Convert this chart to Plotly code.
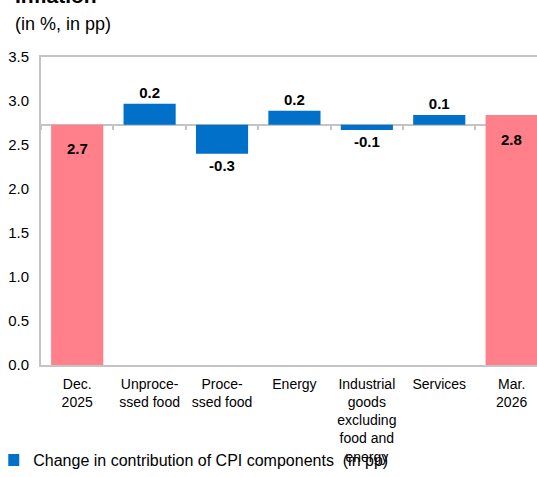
import plotly.graph_objects as go

categories = ["Dec.<br>2025", "Unproce-<br>ssed food", "Proce-<br>ssed food", "Energy",
              "Industrial<br>goods<br>excluding<br>food and<br>energy", "Services", "Mar.<br>2026"]
start_value = 2.73
end_value = 2.84
changes = [0.24, -0.33, 0.16, -0.06, 0.11]
legend_name = "Change in contribution of CPI components  (in pp)"

PINK = "#FF7F8A"
BLUE = "#0070C8"
GRAY = "#C4C4C4"
FONT = "Liberation Sans, Arial, sans-serif"

level_x = [categories[0], categories[-1]]
level_y = [start_value, end_value]
change_x = categories[1:-1]

fig = go.Figure()
fig.add_trace(go.Bar(x=level_x, y=level_y, marker=dict(color=PINK, line=dict(width=0)),
                     width=0.72, showlegend=False, hoverinfo="skip"))
fig.add_trace(go.Bar(x=change_x, y=changes, base=start_value, name=legend_name,
                     marker=dict(color=BLUE, line=dict(width=0)), width=0.72,
                     texttemplate="%{y:.1f}", textposition="outside", cliponaxis=False,
                     textfont=dict(family=FONT, size=15, color="black", weight="bold")))
# invisible helper trace for the crossing axis
fig.add_trace(go.Scatter(x=categories, y=[None] * len(categories), xaxis="x2",
                         showlegend=False, hoverinfo="skip"))

for cx, cy in zip(level_x, level_y):
    fig.add_annotation(x=cx, y=cy, text=f"<b>{cy:.1f}</b>", showarrow=False,
                       yanchor="middle", yshift=-24,
                       font=dict(family=FONT, size=15, color="black"))

fig.add_annotation(xref="paper", yref="paper", x=-0.056, y=1.20, xanchor="left",
                   yanchor="middle", text="<b>Inflation</b>", showarrow=False,
                   font=dict(family=FONT, size=21, color="black"))
fig.add_annotation(xref="paper", yref="paper", x=-0.056, y=1.108, xanchor="left",
                   yanchor="middle", text="(in %, in pp)", showarrow=False,
                   font=dict(family=FONT, size=18, color="black"))

ymax = 3.5
fig.update_layout(
    width=537, height=477,
    margin=dict(l=41, r=0, t=57, b=112),
    paper_bgcolor="white", plot_bgcolor="white",
    barmode="overlay",
    font=dict(family=FONT, size=15, color="black"),
    xaxis=dict(categoryorder="array", categoryarray=categories, range=[-0.5, 6.35],
               showline=True, linecolor=GRAY, linewidth=2, mirror=True, automargin=False,
               ticks="", showgrid=False, tickfont=dict(size=14), ticklabelstandoff=5),
    xaxis2=dict(overlaying="x", matches="x", anchor="free", position=start_value / ymax,
                showticklabels=False, ticks="outside", tickson="boundaries", ticklen=4,
                tickcolor=GRAY, tickwidth=1.5, showline=True, linecolor=GRAY, linewidth=2,
                showgrid=False, layer="below traces", automargin=False),
    yaxis=dict(range=[0, ymax], dtick=0.5, tickformat=".1f", showline=True, automargin=False,
               linecolor=GRAY, linewidth=2, ticks="", showgrid=False, zeroline=False,
               tickfont=dict(size=15), ticklabelstandoff=7),
    legend=dict(orientation="h", x=-0.066, y=-0.364, xanchor="left", yanchor="bottom",
                itemwidth=30, indentation=-15, font=dict(size=16), bgcolor="rgba(0,0,0,0)"),
    showlegend=True,
)

fig.write_html("out.html", config={"displayModeBar": False},
               post_script="document.body.style.margin='0px';")
